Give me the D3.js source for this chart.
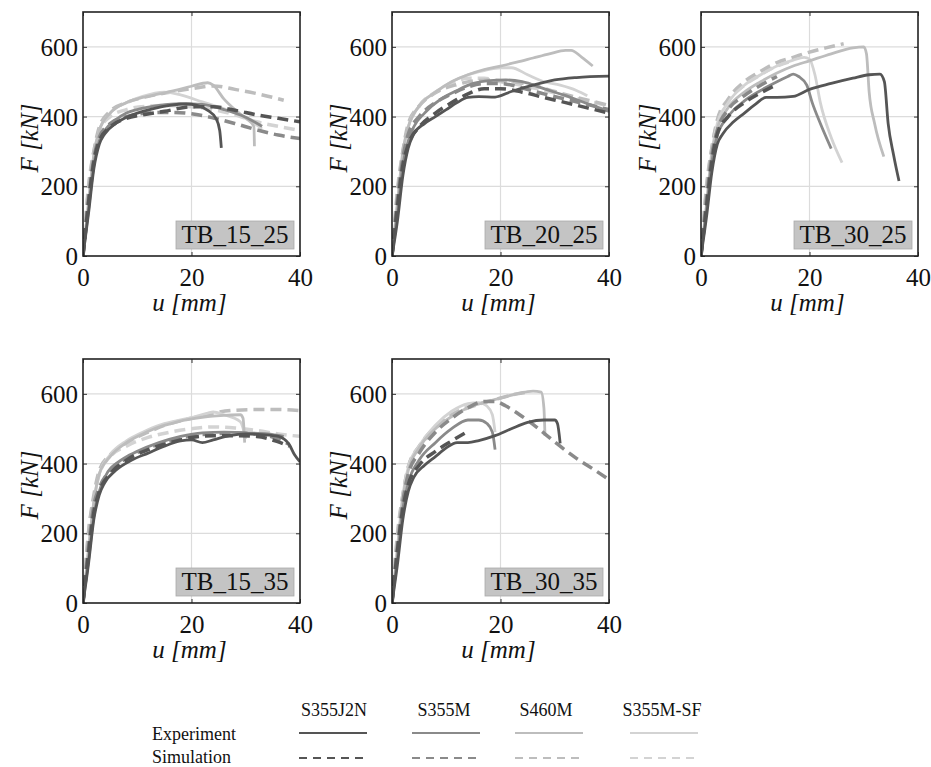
<!DOCTYPE html>
<html>
<head>
<meta charset="utf-8">
<script src="https://d3js.org/d3.v7.min.js"></script>
<style>
  body { margin: 0; background: #fff; }
</style>
</head>
<body>
<script>
// steel grades and specimen names
var steels = ["S355J2N", "S355M", "S460M", "S355M-SF"];
var specimens = ["TB_15_25", "TB_20_25", "TB_30_25", "TB_15_35", "TB_30_35"];
var xTicks = [0, 20, 40];
var yTicks = [0, 200, 400, 600];

// force-displacement curves [u (mm), F (kN)]
var tb15_25 = [
  {steel: "S355M-SF", kind: "sim", pts: [[0,0],[1,200],[2,300],[3,360],[5,400],[8,420],[12,430],[16,432],[20,428],[24,420],[28,405],[32,385],[36,372],[40,360]]},
  {steel: "S460M", kind: "sim", pts: [[0,0],[1,190],[2,300],[3,370],[5,415],[8,440],[12,458],[16,470],[20,480],[24,488],[28,478],[32,466],[37,447]]},
  {steel: "S355M-SF", kind: "exp", pts: [[0,0],[1,150],[2,290],[3,360],[5,410],[8,440],[11,458],[15,470],[18,462],[22,442],[26,422],[30,397],[33,365]]},
  {steel: "S460M", kind: "exp", pts: [[0,0],[1,150],[2,290],[3,360],[5,410],[8,440],[11,455],[14,465],[17,475],[20,487],[23,497],[24,490],[26,450],[28,420],[30,395],[31.5,372],[31.6,315]]},
  {steel: "S355M", kind: "sim", pts: [[0,0],[1,160],[2,280],[3,340],[5,380],[8,400],[12,410],[16,412],[20,408],[24,396],[28,380],[32,362],[36,347],[40,337]]},
  {steel: "S355M", kind: "exp", pts: [[0,0],[1,130],[2,260],[3,330],[4,360],[6,390],[8,410],[10,420],[14,432],[18,437],[22,435],[26,420],[30,398],[33,372]]},
  {steel: "S355J2N", kind: "sim", pts: [[0,0],[1,150],[2,270],[3,330],[5,370],[8,395],[11,405],[15,415],[20,428],[24,428],[28,418],[32,405],[36,395],[40,385]]},
  {steel: "S355J2N", kind: "exp", pts: [[0,0],[1,120],[2,250],[3,320],[4,350],[6,380],[8,398],[10,410],[13,423],[16,432],[19,436],[21,432],[23,418],[24.5,395],[25.2,360],[25.5,310]]}
];

var tb20_25 = [
  {steel: "S355M-SF", kind: "sim", pts: [[0,0],[1,190],[2,300],[3,370],[5,430],[8,470],[11,495],[14,510],[17,510],[20,500],[24,490],[28,475],[32,460],[36,445],[40,430]]},
  {steel: "S460M", kind: "sim", pts: [[0,0],[1,180],[2,300],[3,380],[5,430],[8,468],[12,492],[15,502],[18,505],[22,500],[26,490],[30,472],[34,455],[38,440],[40,432]]},
  {steel: "S355M-SF", kind: "exp", pts: [[0,0],[1,150],[2,290],[3,370],[5,430],[8,470],[11,500],[14,520],[17,532],[20,540],[22,540],[25,520],[28,500],[31,490],[34,475],[36,460]]},
  {steel: "S460M", kind: "exp", pts: [[0,0],[1,150],[2,300],[3,370],[5,430],[8,470],[11,500],[14,520],[17,535],[20,545],[23,556],[26,568],[29,580],[32,590],[33,590],[35,570],[37,545]]},
  {steel: "S355M", kind: "sim", pts: [[0,0],[1,160],[2,280],[3,350],[5,400],[8,440],[11,465],[14,485],[17,495],[20,495],[24,482],[28,465],[32,450],[36,435],[40,420]]},
  {steel: "S355M", kind: "exp", pts: [[0,0],[1,120],[2,260],[3,330],[4,370],[6,410],[9,450],[12,475],[15,495],[18,503],[21,505],[24,500],[28,480],[32,460],[36,437],[40,415]]},
  {steel: "S355J2N", kind: "sim", pts: [[0,0],[1,140],[2,260],[3,320],[5,370],[8,410],[11,440],[14,465],[17,480],[20,480],[24,470],[28,455],[32,440],[36,425],[40,410]]},
  {steel: "S355J2N", kind: "exp", pts: [[0,0],[1,100],[2,230],[3,310],[4,350],[6,380],[8,400],[10,420],[12,440],[14,455],[16,457],[19,456],[22,472],[26,490],[30,505],[34,512],[40,516]]}
];

var tb30_25 = [
  {steel: "S355M-SF", kind: "sim", pts: [[0,0],[1,200],[2,310],[3,385],[5,445],[8,490],[11,520],[14,545],[17,560]]},
  {steel: "S460M", kind: "sim", pts: [[0,0],[1,190],[2,310],[3,390],[5,450],[8,500],[11,530],[14,555],[17,570],[20,585],[23,597],[26.3,609]]},
  {steel: "S355M-SF", kind: "exp", pts: [[0,0],[1,150],[2,300],[3,380],[5,440],[8,490],[11,520],[14,545],[17,562],[19,570],[20,565],[21,520],[22,440],[24,340],[26,268]]},
  {steel: "S460M", kind: "exp", pts: [[0,0],[1,140],[2,290],[3,365],[5,425],[8,470],[11,500],[14,525],[17,545],[20,560],[24,580],[28,597],[30,600],[30.5,580],[31,470],[32,380],[33.7,285]]},
  {steel: "S355M", kind: "sim", pts: [[0,0],[1,160],[2,290],[3,360],[5,420],[8,460],[11,490],[14,515]]},
  {steel: "S355M", kind: "exp", pts: [[0,0],[1,130],[2,270],[3,345],[5,400],[8,445],[11,475],[14,500],[16,515],[17,522],[18,515],[19.5,490],[20.5,440],[22,380],[24,308]]},
  {steel: "S355J2N", kind: "sim", pts: [[0,0],[1,140],[2,270],[3,350],[5,400],[8,440],[11,468],[14,492]]},
  {steel: "S355J2N", kind: "exp", pts: [[0,0],[1,110],[2,240],[3,320],[4,350],[6,385],[8,410],[10,435],[12,455],[14,455],[17,458],[20,478],[24,495],[28,510],[31,520],[33,522],[33.8,500],[34.5,380],[35.5,290],[36.5,215]]}
];

var tb15_35 = [
  {steel: "S355M-SF", kind: "sim", pts: [[0,0],[1,200],[2,300],[3,370],[5,420],[8,450],[12,475],[16,490],[20,500],[24,505],[28,502],[32,495],[36,485],[40,478]]},
  {steel: "S460M", kind: "sim", pts: [[0,0],[1,200],[2,310],[3,380],[5,425],[8,460],[12,490],[16,515],[20,530],[24,545],[28,553],[32,555],[36,555],[40,552]]},
  {steel: "S355M-SF", kind: "exp", pts: [[0,0],[1,150],[2,290],[3,370],[5,425],[8,465],[11,490],[14,510],[17,522],[20,532],[23,545],[24,548],[26,540],[29,520],[30,470]]},
  {steel: "S460M", kind: "exp", pts: [[0,0],[1,150],[2,290],[3,370],[5,420],[8,460],[11,485],[14,505],[17,518],[20,528],[23,535],[26,538],[29,540],[29.5,530],[29.8,460]]},
  {steel: "S355M", kind: "sim", pts: [[0,0],[1,160],[2,280],[3,330],[5,380],[8,415],[12,445],[16,465],[20,480],[24,485],[28,488],[32,485],[36,470],[38,455]]},
  {steel: "S355M", kind: "exp", pts: [[0,0],[1,120],[2,250],[3,320],[4,360],[7,410],[10,435],[14,460],[18,478],[22,488],[26,490],[30,488],[34,485],[37,478]]},
  {steel: "S355J2N", kind: "sim", pts: [[0,0],[1,140],[2,260],[3,320],[5,370],[8,410],[12,440],[16,460],[20,475],[24,480],[28,480],[32,478],[36,462],[38,450]]},
  {steel: "S355J2N", kind: "exp", pts: [[0,0],[1,110],[2,240],[3,310],[4,345],[6,380],[9,410],[12,430],[15,450],[18,465],[20,468],[22,460],[24,468],[27,480],[30,485],[33,483],[36,478],[38,455],[39,425],[40,405]]}
];

var tb30_35 = [
  {steel: "S355M-SF", kind: "sim", pts: [[0,0],[1,200],[2,310],[3,390],[5,445],[8,500],[11,540],[14,565],[17,575]]},
  {steel: "S460M", kind: "sim", pts: [[0,0],[1,190],[2,310],[3,390],[5,450],[8,505],[11,540],[14,560],[17,575],[20,588],[23,600],[25,605]]},
  {steel: "S355M-SF", kind: "exp", pts: [[0,0],[1,160],[2,310],[3,390],[5,450],[8,510],[11,550],[14,572],[16,575],[17.5,565],[18.5,540],[19,490]]},
  {steel: "S460M", kind: "exp", pts: [[0,0],[1,150],[2,300],[3,380],[5,445],[8,500],[11,535],[14,560],[17,575],[20,588],[23,600],[26,608],[27.5,605],[28,560],[28.2,480]]},
  {steel: "S355M", kind: "sim", pts: [[0,0],[1,160],[2,290],[3,370],[5,430],[8,490],[11,530],[14,560],[17,578],[19,578],[21,565],[24,535],[27,500],[30,462],[34,415],[37,385],[40,354]]},
  {steel: "S355M", kind: "exp", pts: [[0,0],[1,130],[2,270],[3,345],[5,410],[8,460],[11,500],[14,525],[16,525],[17.5,515],[18.5,490],[19,440]]},
  {steel: "S355J2N", kind: "sim", pts: [[0,0],[1,150],[2,270],[3,340],[5,395],[8,435],[11,465],[13.5,488]]},
  {steel: "S355J2N", kind: "exp", pts: [[0,0],[1,110],[2,240],[3,320],[4,360],[6,395],[8,420],[10,445],[12,460],[14,460],[16,466],[19,480],[22,500],[25,518],[28,525],[30,525],[30.5,515],[31,458]]}
];

var panelData = [tb15_25, tb20_25, tb30_25, tb15_35, tb30_35];

var serif = "'Liberation Serif', 'Times New Roman', serif";

var colour = d3.scaleOrdinal()
  .domain(steels)
  .range(["#555555", "#8a8a8a", "#bdbdbd", "#d3d3d3"]);

var W = 931, H = 767;
var svg = d3.select("body").append("svg").attr("width", W).attr("height", H)
  .style("font-family", serif);

// panel boxes: left x, top y
var slots = [[83, 12], [392, 12], [701, 12], [83, 359], [392, 359]];
var pw = 217, ph = 244;

var x = d3.scaleLinear().domain([0, 40]).range([0, pw]);
var y = d3.scaleLinear().domain([0, 700]).range([ph, 0]);

var line = d3.line()
  .x(function(d) { return x(d[0]); })
  .y(function(d) { return y(d[1]); })
  .curve(d3.curveMonotoneX);

panelData.forEach(function(series, i) {
  var g = svg.append("g").attr("transform", "translate(" + slots[i][0] + "," + slots[i][1] + ")");

  // grid
  g.selectAll("line.gy").data(yTicks.slice(1)).enter().append("line")
    .attr("x1", 0).attr("x2", pw)
    .attr("y1", function(d) { return y(d); }).attr("y2", function(d) { return y(d); })
    .attr("stroke", "#dcdcdc").attr("stroke-width", 1.2);
  g.append("line")
    .attr("x1", x(20)).attr("x2", x(20)).attr("y1", 0).attr("y2", ph)
    .attr("stroke", "#dcdcdc").attr("stroke-width", 1.2);

  var clip = "clip" + i;
  g.append("clipPath").attr("id", clip).append("rect").attr("width", pw).attr("height", ph);

  g.append("g").attr("clip-path", "url(#" + clip + ")")
    .selectAll("path").data(series).enter().append("path")
    .attr("d", function(d) { return line(d.pts); })
    .attr("fill", "none")
    .attr("stroke", function(d) { return colour(d.steel); })
    .attr("stroke-width", function(d) { return d.kind === "sim" ? 3.5 : 2.8; })
    .attr("stroke-dasharray", function(d) { return d.kind === "sim" ? "11,6" : null; })
    .attr("stroke-linejoin", "round");

  // axes with inward ticks
  g.append("g").attr("transform", "translate(0," + ph + ")")
    .call(d3.axisBottom(x).tickValues(xTicks).tickSize(-4).tickPadding(12));
  var ay = g.append("g")
    .call(d3.axisLeft(y).tickValues(yTicks).tickSize(-4).tickPadding(5));
  g.append("g").call(d3.axisTop(x).tickValues(xTicks).tickSize(-4).tickFormat(""));
  g.append("g").attr("transform", "translate(" + pw + ",0)")
    .call(d3.axisRight(y).tickValues(yTicks).tickSize(-4).tickFormat(""));
  g.selectAll(".domain").remove();
  g.selectAll(".tick line").attr("stroke", "#333");
  g.selectAll(".tick text")
    .style("font-family", serif).style("font-size", "25px").attr("fill", "#111");
  ay.selectAll(".tick text").attr("dy", "0.34em");

  g.append("rect").attr("width", pw).attr("height", ph)
    .attr("fill", "none").attr("stroke", "#222").attr("stroke-width", 1.6);

  // specimen label
  g.append("rect")
    .attr("x", pw - 124).attr("y", ph - 35).attr("width", 118).attr("height", 28)
    .attr("fill", "#c4c4c4").attr("stroke", "#aaa").attr("stroke-width", 0.8);
  g.append("text")
    .attr("x", pw - 65).attr("y", ph - 13).attr("text-anchor", "middle")
    .style("font-family", serif).style("font-size", "25px").attr("fill", "#111")
    .text(specimens[i]);

  // axis titles
  g.append("text")
    .attr("x", pw / 2 - 2).attr("y", ph + 55).attr("text-anchor", "middle")
    .style("font-family", serif).style("font-size", "25px").style("font-style", "italic")
    .attr("fill", "#111").text("u [mm]");
  g.append("text")
    .attr("transform", "translate(-45," + (ph / 2 + 4) + ") rotate(-90)")
    .attr("text-anchor", "middle")
    .style("font-family", serif).style("font-size", "25px").style("font-style", "italic")
    .attr("fill", "#111").text("F [kN]");
});

// legend
var legX = [299, 412, 515, 630], legLen = 68;
var headX = [334, 444, 546, 662];
var leg = svg.append("g").style("font-family", serif).style("font-size", "18px");
leg.selectAll("text.head").data(steels).enter().append("text")
  .attr("x", function(d, i) { return headX[i]; }).attr("y", 716)
  .attr("text-anchor", "middle").attr("fill", "#111").text(function(d) { return d; });
leg.append("text").attr("x", 152).attr("y", 740).attr("fill", "#111").text("Experiment");
leg.append("text").attr("x", 152).attr("y", 763).attr("fill", "#111").text("Simulation");
leg.selectAll("line.exp").data(steels).enter().append("line")
  .attr("x1", function(d, i) { return legX[i]; }).attr("x2", function(d, i) { return legX[i] + legLen; })
  .attr("y1", 733).attr("y2", 733)
  .attr("stroke", function(d) { return colour(d); }).attr("stroke-width", 2);
leg.selectAll("line.sim").data(steels).enter().append("line")
  .attr("x1", function(d, i) { return legX[i]; }).attr("x2", function(d, i) { return legX[i] + legLen; })
  .attr("y1", 758).attr("y2", 758)
  .attr("stroke", function(d) { return colour(d); }).attr("stroke-width", 2)
  .attr("stroke-dasharray", "8,6");
</script>
</body>
</html>
